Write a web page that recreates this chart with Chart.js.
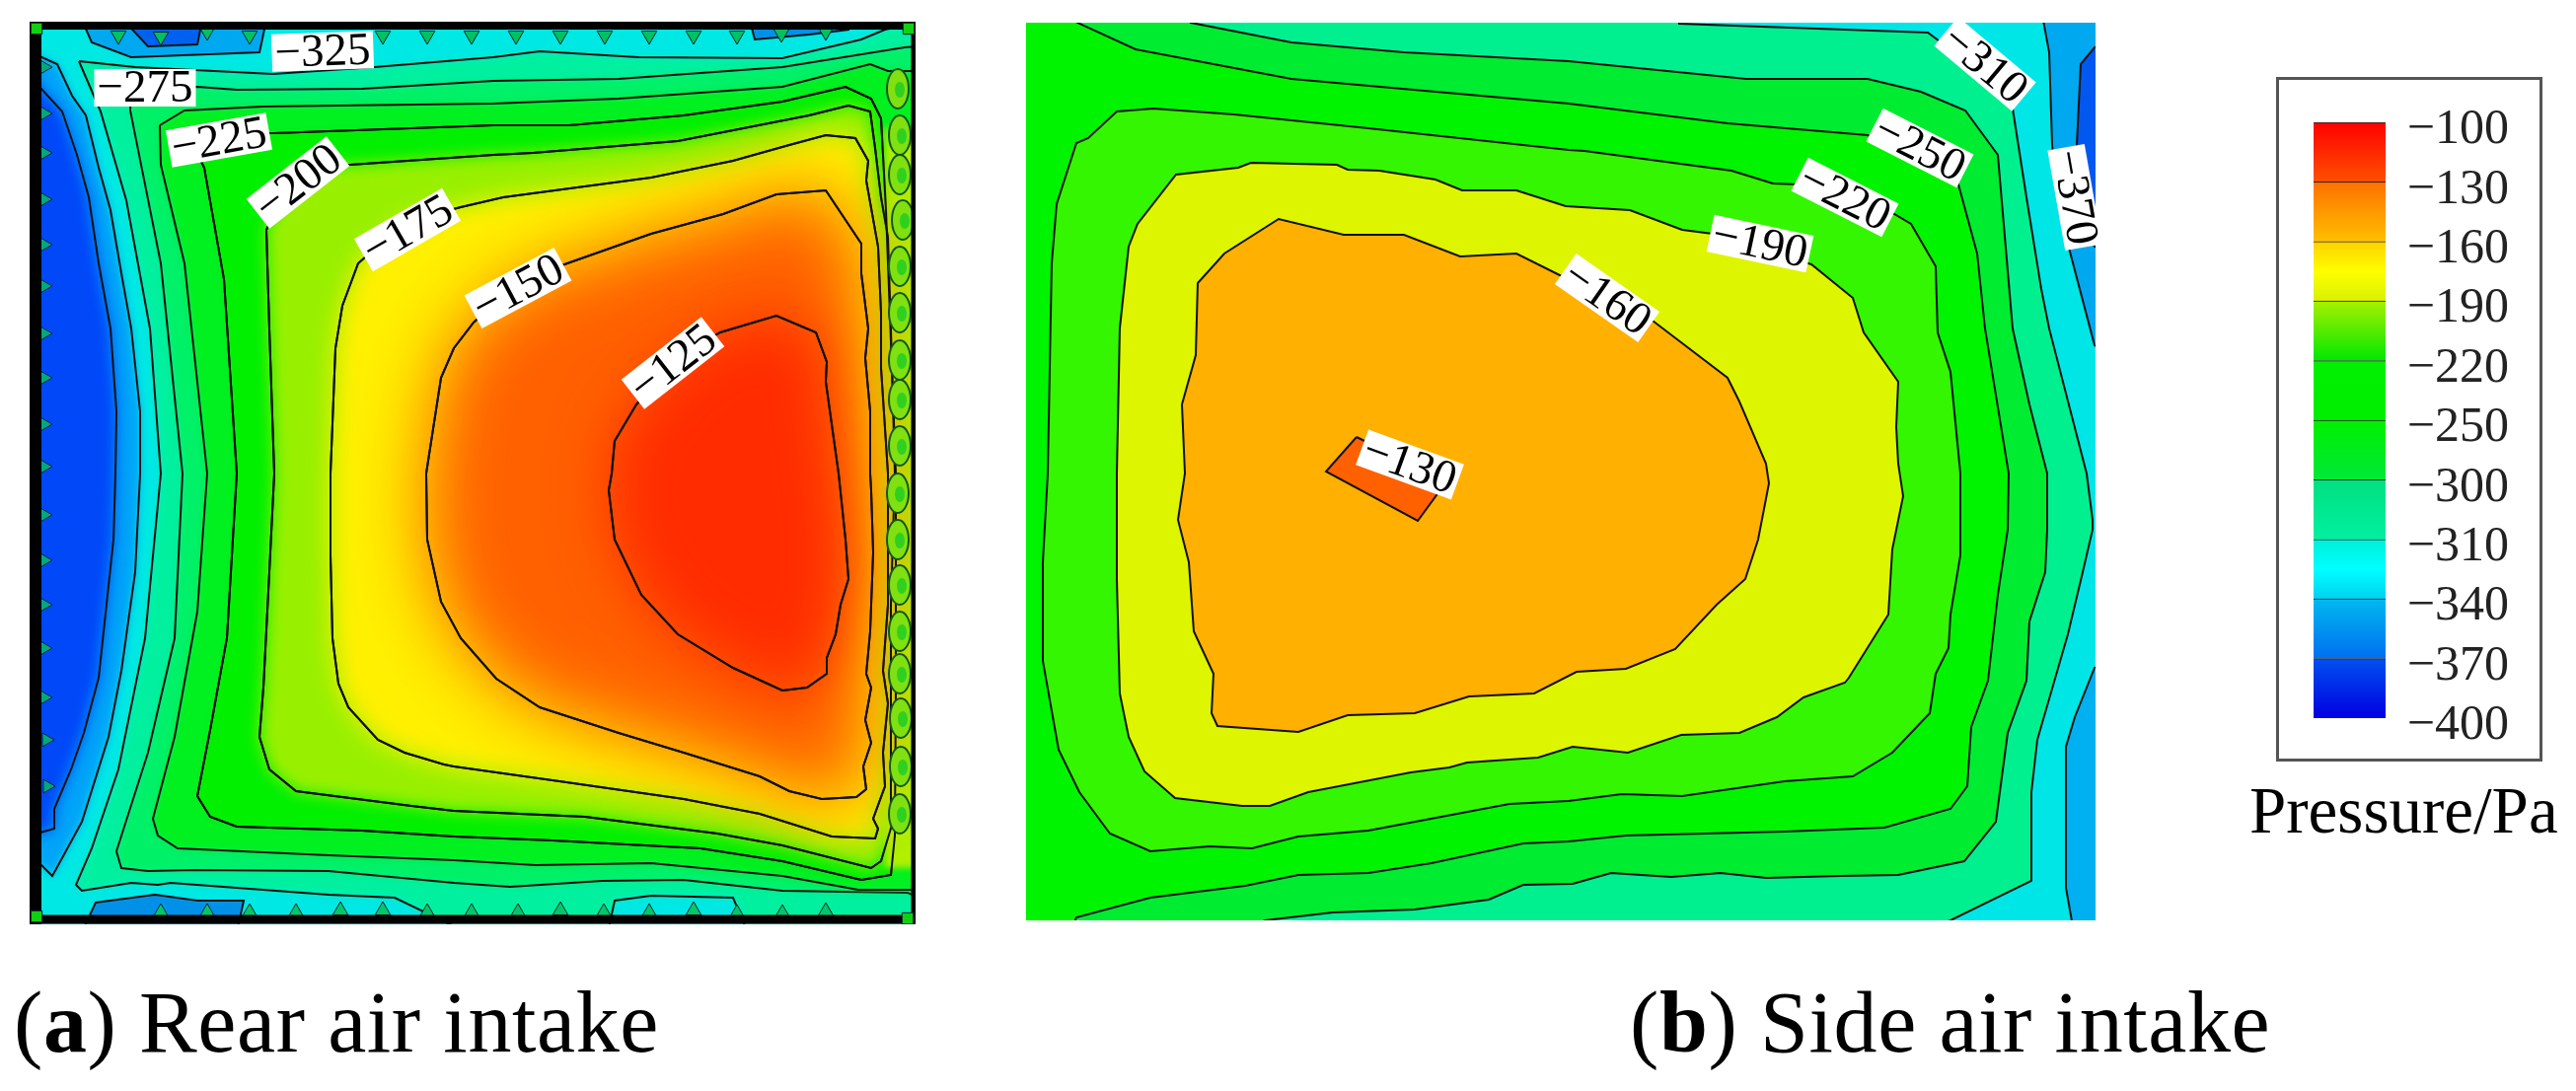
<!DOCTYPE html>
<html>
<head>
<meta charset="utf-8">
<script src="https://cdn.jsdelivr.net/npm/chart.js@4"></script>
<style>
  html, body { margin: 0; background: #fff; width: 2611px; height: 1106px; overflow: hidden; }
  canvas { position: absolute; filter: blur(0.6px); }
  .cap { position: absolute; font-family: "Liberation Serif", serif; color: #000; white-space: nowrap; line-height: 1; letter-spacing: 0.6px; }
  #box { position: absolute; left: 2307px; top: 78px; width: 264px; height: 688px; border: 3px solid #555; filter: blur(0.5px); }
</style>
</head>
<body>
<div id="box"></div>
<canvas id="rear" width="922" height="939" style="left:18px;top:10px"></canvas>
<canvas id="side" width="1108" height="934" style="left:1028px;top:11px"></canvas>
<canvas id="bar" width="206" height="680" style="left:2345px;top:80px"></canvas>
<div class="cap" style="left:14px;top:993px;font-size:88px">(<b>a</b>) Rear air intake</div>
<div class="cap" style="left:1652px;top:993px;font-size:88px">(<b>b</b>) Side air intake</div>
<div class="cap" style="left:2280px;top:788px;font-size:67px;letter-spacing:0;filter:blur(0.5px)">Pressure/Pa</div>
<script>
// contour lines, in image pixels
// rear intake
const rearOuter = [[10,10],[950,10],[950,950],[10,950]];
const rear350 = [[20,40],[40,88],[63,113],[78,157],[90,200],[100,267],[112,333],[118,417],[117,480],[115,547],[100,687],[85,743],[72,780],[55,820],[55,840],[20,850]];
const rear325 = [[20,50],[40,57],[58,65],[73,97],[87,117],[100,170],[112,213],[123,277],[133,333],[142,417],[142,480],[137,580],[123,680],[110,747],[83,833],[53,888],[42,877],[20,880]];
const rear300 = [[80,62],[137,68],[277,75],[380,68],[500,58],[547,52],[647,58],[793,59],[873,40],[897,30],[945,20],[945,950],[760,950],[743,910],[660,908],[623,913],[615,950],[483,950],[400,910],[333,907],[173,895],[160,897],[133,895],[83,903],[77,897],[93,860],[120,780],[147,647],[163,480],[152,333],[128,203],[102,113]];
const rear275 = [[133,90],[200,88],[240,91],[367,90],[500,82],[627,80],[793,68],[917,48],[945,46],[945,916],[920,905],[793,903],[693,892],[610,893],[517,899],[460,895],[333,883],[197,882],[150,883],[123,880],[118,863],[150,763],[177,647],[185,480],[163,267],[132,112]];
const rear250 = [[162,127],[187,112],[267,108],[500,105],[627,100],[793,88],[882,65],[900,72],[945,72],[945,902],[920,902],[870,902],[793,888],[660,875],[543,877],[460,872],[333,867],[180,860],[160,847],[155,830],[177,747],[200,620],[210,480],[187,267],[163,167]];
const rear225 = [[190,135],[278,135],[500,127],[577,127],[693,117],[793,103],[857,88],[883,100],[893,120],[898,213],[908,480],[908,700],[907,847],[903,887],[873,892],[793,873],[710,860],[560,852],[460,848],[367,842],[240,838],[213,828],[200,807],[213,740],[230,647],[240,480],[227,283],[207,170]];
const rear200 = [[300,170],[355,167],[500,157],[540,155],[687,143],[820,117],[860,107],[882,113],[887,150],[893,200],[900,240],[903,333],[907,480],[903,613],[903,813],[905,833],[893,873],[883,880],[793,857],[727,845],[593,828],[460,822],[417,817],[300,802],[273,780],[263,747],[267,697],[273,580],[278,480],[273,333],[270,233]];
const rear175 = [[410,225],[467,210],[510,200],[660,180],[743,163],[800,147],[837,137],[867,140],[880,163],[878,183],[890,250],[893,317],[893,373],[900,480],[900,613],[895,680],[900,713],[895,763],[897,797],[885,830],[890,840],[887,850],[843,848],[770,825],[693,810],[567,792],[460,777],[450,775],[410,763],[383,750],[353,717],[343,693],[337,647],[335,563],[335,480],[340,353],[347,310],[363,267]];
const rear150 = [[525,285],[575,267],[660,237],[733,217],[787,197],[837,193],[873,247],[873,277],[880,333],[877,363],[882,417],[882,480],[883,497],[885,560],[882,640],[878,683],[883,697],[877,730],[883,753],[875,777],[878,800],[868,808],[833,810],[800,802],[770,787],[693,763],[627,743],[547,717],[503,688],[467,647],[447,610],[433,547],[432,480],[447,383],[460,353],[480,327]];
const rear125 = [[690,360],[730,337],[787,320],[827,337],[838,367],[837,387],[850,480],[857,547],[860,587],[852,613],[847,643],[838,667],[838,683],[818,697],[793,700],[743,677],[687,643],[650,603],[623,547],[617,497],[620,480],[623,447],[645,410]];
const rearRightStrip = [[897,130],[940,130],[940,880],[897,880]];
const rearTopBlue = [[83,20],[93,43],[133,58],[263,53],[270,20]];
const rearTopDeep = [[125,20],[150,47],[200,45],[205,20]];
const rearBottomBlue = [[83,945],[97,915],[157,907],[200,913],[247,913],[240,945]];
const rearTopRightBlue = [[760,20],[765,40],[820,35],[860,30],[865,20]];
const rearTrianglesTop = [[120,36],[163,37],[210,32],[253,36],[388,36],[433,36],[478,36],[523,36],[568,36],[613,36],[658,36],[703,36],[747,36],[792,34],[837,32]];
const rearTrianglesLeft = [[45,68],[45,115],[45,155],[45,202],[45,248],[45,290],[45,338],[45,383],[45,430],[45,473],[45,522],[45,568],[45,613],[45,657],[45,707],[47,750],[48,797]];
const rearTrianglesBottom = [[163,925],[210,925],[253,925],[300,925],[345,923],[388,923],[433,925],[478,925],[525,925],[568,923],[612,925],[658,925],[703,923],[747,926],[793,926],[837,924]];
const rearBlobs = [[910,90],[912,137],[912,177],[915,223],[912,270],[912,317],[912,365],[912,405],[912,452],[910,500],[910,547],[912,593],[912,640],[912,683],[913,728],[913,777],[912,825]];
const rearCorners = [[37,29],[921,29],[37,929],[920,931]];
const frameLeft = [[36,24],[36,934]];
const frameTop = [[32,26],[926,26]];
const frameRight = [[926,26],[926,934]];
const frameBottom = [[32,932],[926,932]];
// side intake
const sideOuter = [[1020,10],[2140,10],[2140,950],[1020,950]];
const sideBlueTop = [[2069,10],[2077,53],[2080,147],[2088,217],[2123,350],[2140,360],[2140,10]];
const sideDeepTop = [[2140,40],[2123,48],[2109,65],[2105,147],[2108,200],[2123,250],[2140,255]];
const sideBlueLow = [[2140,670],[2123,677],[2103,727],[2094,757],[2094,900],[2102,945],[2140,945]];
const side310 = [[1020,10],[1700,10],[1702,24],[1954,33],[1990,60],[2040,110],[2054,200],[2069,293],[2077,333],[2115,480],[2121,527],[2121,537],[2111,580],[2096,643],[2065,750],[2059,803],[2059,893],[1977,933],[1950,945],[1020,945]];
const side300 = [[1020,10],[1190,10],[1207,23],[1309,43],[1423,53],[1590,62],[1770,80],[1893,80],[1947,93],[1992,112],[2025,157],[2040,333],[2057,410],[2075,480],[2075,537],[2073,580],[2057,630],[2054,690],[2035,743],[2023,833],[1991,873],[1924,887],[1866,888],[1790,890],[1744,885],[1694,889],[1633,885],[1594,896],[1544,897],[1509,912],[1434,922],[1351,925],[1282,933],[1260,945],[1020,945]];
const side250 = [[1020,10],[1075,10],[1092,23],[1151,50],[1309,80],[1590,105],[1751,125],[1893,137],[1940,160],[1985,187],[2004,257],[2012,333],[2036,480],[2035,537],[2025,603],[2015,690],[1998,737],[1994,797],[1977,820],[1910,839],[1809,843],[1648,847],[1590,853],[1544,855],[1451,875],[1387,885],[1316,887],[1262,898],[1166,910],[1091,930],[1085,945],[1020,945]];
const side220 = [[1062,480],[1066,267],[1071,207],[1091,145],[1103,140],[1132,113],[1169,110],[1251,116],[1387,130],[1590,152],[1606,153],[1755,173],[1797,186],[1824,187],[1920,217],[1937,227],[1962,270],[1964,337],[1977,377],[1987,480],[1987,563],[1977,623],[1975,657],[1962,683],[1956,723],[1918,763],[1878,787],[1809,792],[1705,807],[1644,805],[1590,812],[1530,815],[1387,842],[1316,848],[1269,860],[1226,858],[1166,863],[1125,845],[1094,803],[1073,760],[1057,670],[1057,570]];
const side190 = [[1132,480],[1135,333],[1144,250],[1153,227],[1192,177],[1255,170],[1268,165],[1355,167],[1366,172],[1398,173],[1455,182],[1482,193],[1537,193],[1587,209],[1652,213],[1705,233],[1736,237],[1836,268],[1878,302],[1889,337],[1924,387],[1922,433],[1924,470],[1929,503],[1918,557],[1914,623],[1874,687],[1870,692],[1828,707],[1801,727],[1763,743],[1704,745],[1650,763],[1594,757],[1559,768],[1487,773],[1469,778],[1430,783],[1326,803],[1287,817],[1259,817],[1191,809],[1160,782],[1144,747],[1135,703],[1132,587]];
const side160 = [[1198,410],[1212,360],[1214,287],[1241,257],[1296,222],[1362,238],[1423,238],[1480,260],[1537,257],[1583,280],[1675,325],[1751,383],[1763,407],[1790,470],[1793,490],[1782,547],[1769,587],[1740,613],[1698,658],[1648,678],[1598,681],[1555,703],[1489,706],[1434,723],[1366,725],[1316,742],[1234,736],[1228,723],[1230,683],[1210,640],[1205,570],[1194,527],[1201,480]];
const side130 = [[1375,443],[1344,478],[1437,528],[1459,498],[1470,490]];
// contour label texts and where they sit
const rearLabelTexts = ['\u2212325','\u2212275','\u2212225','\u2212200','\u2212175','\u2212150','\u2212125'];
const rearLabelSpots = [[327,52,-2],[147,89,0],[222,142,-10],[302,185,-38],[413,233,-30],[525,292,-28],[682,368,-38]];
const sideLabelTexts = ['\u2212310','\u2212250','\u2212220','\u2212190','\u2212160','\u2212130','\u2212370'];
const sideLabelSpots = [[2012,65,40],[1946,150,27],[1870,200,27],[1784,247,12],[1629,302,35],[1429,471,20],[2103,200,80]];
// colour bar
const pressureTicks = ['\u2212100','\u2212130','\u2212160','\u2212190','\u2212220','\u2212250','\u2212300','\u2212310','\u2212340','\u2212370','\u2212400'];
const bandHeights = [1,1,1,1,1,1,1,1,1,1];
const bandStops = [
  ['#ff0000','#ff5000'],['#ff7000','#ffc000'],['#ffd000','#ffff00','#d8f000'],['#a8f000','#00e800'],['#00f000','#00ee00'],
  ['#00f000','#00e838'],['#00e080','#00f0a0'],['#00f0d8','#00ffff','#00d0f0'],['#00b8f0','#0070f0'],['#0050f0','#0000e0']];

function xy(p) { return {x: p[0], y: p[1]}; }
function region(pts, shade, blur, width) {
  const data = pts.map(xy);
  if (width) data.push(xy(pts[0]));
  return {data: data, showLine: true, fill: false, tension: 0, pointRadius: 0, borderColor: width ? '#111' : 'transparent', borderWidth: width || 0, shade: shade, blur: blur || 0};
}
function marks(pts, style, radius, color, rotation) {
  return {data: pts.map(xy), showLine: false, pointStyle: style, pointRadius: radius, pointRotation: rotation || 0, backgroundColor: color, borderColor: '#123', borderWidth: 1};
}
function bar(pts, width) {
  return {data: pts.map(xy), showLine: true, fill: false, tension: 0, pointRadius: 0, borderColor: '#000', borderWidth: width, borderCapStyle: 'square'};
}

// fills go under their outline, blurred when the dataset asks for it
const shadePlugin = {
  id: 'shade',
  beforeDatasetDraw(chart, args) {
    const ds = chart.data.datasets[args.index];
    if (!ds.shade) return;
    const ctx = chart.ctx, a = chart.chartArea;
    ctx.save();
    ctx.beginPath();
    ctx.rect(a.left, a.top, a.right - a.left, a.bottom - a.top);
    ctx.clip();
    if (ds.blur) ctx.filter = 'blur(' + ds.blur + 'px)';
    ctx.fillStyle = ds.shade;
    ctx.beginPath();
    args.meta.data.forEach((p, i) => i ? ctx.lineTo(p.x, p.y) : ctx.moveTo(p.x, p.y));
    ctx.closePath();
    ctx.fill();
    ctx.restore();
  }
};
function labelPlugin(texts, spots) {
  return {
    id: 'contourLabels',
    afterDatasetsDraw(chart) {
      const ctx = chart.ctx;
      ctx.save();
      ctx.font = '47px "Liberation Serif"';
      ctx.textAlign = 'center';
      ctx.textBaseline = 'middle';
      texts.forEach((t, i) => {
        const s = spots[i];
        ctx.save();
        ctx.translate(chart.scales.x.getPixelForValue(s[0]), chart.scales.y.getPixelForValue(s[1]));
        ctx.rotate(s[2] * Math.PI / 180);
        const w = ctx.measureText(t).width + 6;
        ctx.fillStyle = '#fff';
        ctx.fillRect(-w / 2, -19, w, 38);
        ctx.fillStyle = '#000';
        ctx.fillText(t, 0, 2);
        ctx.restore();
      });
      ctx.restore();
    }
  };
}
function panel(id, xr, yr, sets, texts, spots) {
  new Chart(document.getElementById(id), {
    type: 'scatter',
    data: {datasets: sets.slice().reverse()},   // first dataset is drawn last
    options: {
      responsive: false, animation: false,
      layout: {padding: 12},
      plugins: {legend: {display: false}, tooltip: {enabled: false}},
      scales: {
        x: {type: 'linear', min: xr[0], max: xr[1], display: false},
        y: {type: 'linear', min: yr[0], max: yr[1], reverse: true, display: false}
      }
    },
    plugins: [shadePlugin, labelPlugin(texts, spots)]
  });
}

// wobbly bubbles along the right edge of the rear panel
const blob = document.createElement('canvas');
blob.width = 30; blob.height = 50;
(function () {
  const c = blob.getContext('2d');
  c.beginPath(); c.ellipse(15, 25, 11, 20, 0, 0, 7);
  c.fillStyle = '#80e010'; c.fill();
  c.lineWidth = 2; c.strokeStyle = '#152'; c.stroke();
  c.beginPath(); c.ellipse(17, 26, 5, 8, 0, 0, 7);
  c.fillStyle = '#30d020'; c.fill();
})();

panel('rear', [30, 928], [22, 937], [
  region(rearOuter, '#00e8e4'),
  region(rear325, '#00a4f8', 4, 2),
  region(rear350, '#0048f8', 7, 2),
  region(rearTopBlue, '#00a8f0', 1, 2),
  region(rearTopDeep, '#0060f0', 1, 2),
  region(rearBottomBlue, '#0090e8', 1, 2),
  region(rearTopRightBlue, '#0090e8', 1, 2),
  region(rear300, '#00f0a0', 3, 2),
  region(rear275, '#00f068', 3, 2),
  region(rear250, '#00f020', 3, 2),
  region(rear225, '#00f000', 2, 2),
  region(rear200, '#98f000', 8, 2),
  region(rearRightStrip, '#b0f000', 3),
  region(rear175, '#fff000', 12, 2),
  region(rear150, '#ff6000', 36, 2),
  region(rear125, '#ff2c00', 30, 2),
  // outlines again, the soft fills run over them
  region(rear225, null, 0, 2), region(rear200, null, 0, 2), region(rear175, null, 0, 2), region(rear150, null, 0, 2), region(rear125, null, 0, 2),
  marks(rearTrianglesTop, 'triangle', 9, '#00c060', 180),
  marks(rearTrianglesLeft, 'triangle', 8, '#00a880', 90),
  marks(rearTrianglesBottom, 'triangle', 9, '#00c868', 0),
  marks(rearBlobs, blob, 5, '#58d818'),
  bar(frameLeft, 12), bar(frameTop, 8), bar(frameRight, 5), bar(frameBottom, 9),
  marks(rearCorners, 'rect', 8, '#10d010')
], rearLabelTexts, rearLabelSpots);

panel('side', [1040, 2124], [23, 933], [
  region(sideOuter, '#00e6e6'),
  region(sideBlueTop, '#00a8f0', 0, 2),
  region(sideDeepTop, '#0058f0', 0, 2),
  region(sideBlueLow, '#00b0f0', 0, 2),
  region(side310, '#00f090', 0, 2),
  region(side300, '#00ec30', 0, 2),
  region(side250, '#00f400', 0, 2),
  region(side220, '#34f600', 1, 2),
  region(side190, '#def500', 0, 2),
  region(side160, '#ffb000', 0, 2),
  region(side130, '#ff6000', 0, 2)
], sideLabelTexts, sideLabelSpots);

// colour bar: stacked bands on one category, top band first in bandStops
const bandSets = bandHeights.map((h, i) => {
  const stops = bandStops[bandStops.length - 1 - i];
  return {
    data: [h],
    borderColor: '#222',
    borderWidth: {top: 1},
    borderSkipped: false,
    backgroundColor(c) {
      const a = c.chart.chartArea;
      if (!a) return stops[0];
      const y = c.chart.scales.y;
      const g = c.chart.ctx.createLinearGradient(0, y.getPixelForValue(i + 1), 0, y.getPixelForValue(i));
      stops.forEach((s, k) => g.addColorStop(k / (stops.length - 1), s));
      return g;
    }
  };
});
new Chart(document.getElementById('bar'), {
  type: 'bar',
  data: {labels: ['Pressure'], datasets: bandSets},
  options: {
    responsive: false, animation: false,
    layout: {padding: {top: 44, bottom: 32, left: 0, right: 8}},
    plugins: {legend: {display: false}, tooltip: {enabled: false}},
    datasets: {bar: {barPercentage: 1, categoryPercentage: 1}},
    scales: {
      x: {stacked: true, display: false},
      y: {
        stacked: true, position: 'right', min: 0, max: 10,
        grid: {display: false}, border: {display: false},
        afterFit(s) { s.width = 125; },
        ticks: {
          stepSize: 1, autoSkip: false, padding: 0, crossAlign: 'far', color: '#222', labelOffset: 8,
          font: {family: '"Liberation Serif"', size: 50},
          callback: v => pressureTicks[10 - v]
        }
      }
    }
  }
});
</script>
</body>
</html>
